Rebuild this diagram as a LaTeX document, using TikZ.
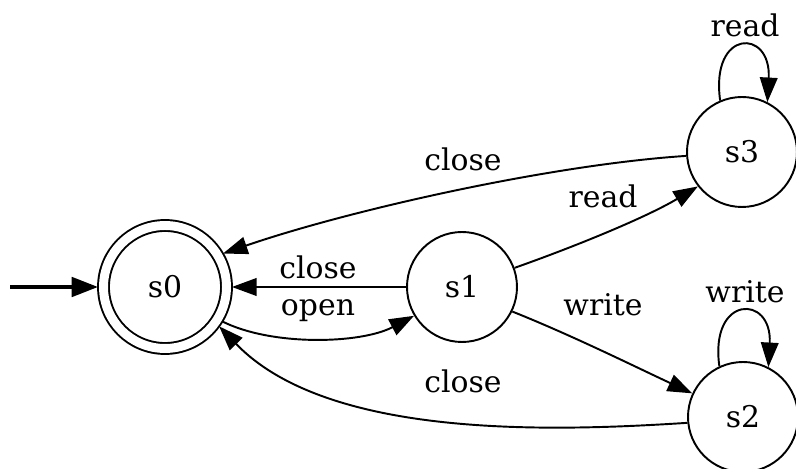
\documentclass[tikz,border=0pt]{standalone}
\usepackage{fontspec}
\setmainfont{DejaVu Serif}
\usetikzlibrary{arrows.meta}

\begin{document}
\begin{tikzpicture}[x=0.02cm, y=-0.02cm,
        statenode/.style={circle, draw, line width=1.1pt, minimum size=2.2cm,
            inner sep=0pt, font=\fontsize{17}{20}\selectfont},
        finalnode/.style={statenode, double, double distance=5.1pt,
            minimum size=2.46cm, outer sep=3.1pt},
        trans/.style={line width=1.1pt, -{Triangle[length=14pt, width=10pt]}},
        lbl/.style={inner sep=0pt, font=\fontsize{17}{20}\selectfont}]
                \useasboundingbox (0,0) rectangle (796,469);

                % states
                \node[finalnode] (s0) at (165,287) {s0};
                \node[statenode] (s1) at (462,287) {s1};
                \node[statenode] (s3) at (742,152) {s3};
                \node[statenode] (s2) at (743,417) {s2};

                % entry arrow
                \coordinate (entry) at (10,287);
                \draw[line width=2.2pt, -{Triangle[length=15pt, width=11pt]}] (entry) -- (s0);

                % transitions
                \draw[trans] (s1) -- (s0);
                \draw[trans] (s0.-31) .. controls +(50,25) and +(-53,28) .. (s1.211);
                \draw[trans] (s1.20) .. controls +(65,-23) and +(-50,30) .. (s3.218);
                \draw[trans] (s1.-26) .. controls +(60,24) and +(-60,-28) .. (s2.155);
                \draw[trans] (s3.184) .. controls +(-137,9) and +(125,-43) .. (s0.30);
                \draw[trans] (s2.186) .. controls +(-140,9) and +(108,112) .. (s0.-36);
                \draw[trans] (s3.113) .. controls +(-10,-72) and +(4,-74) .. (s3.63);
                \draw[trans] (s2.115) .. controls +(-10,-72) and +(4,-73) .. (s2.63);

                % labels
                \node[lbl] (lclose10) at (318,267) {close};
                \node[lbl] (lopen01) at (318,311) {open};
                \node[lbl] (lread13) at (603,196) {read};
                \node[lbl] (lwrite12) at (603,305) {write};
                \node[lbl] (lclose30) at (463,159) {close};
                \node[lbl] (lclose20) at (463,381) {close};
                \node[lbl] (lread33) at (745,25) {read};
                \node[lbl] (lwrite22) at (745,292) {write};
            \end{tikzpicture}
\end{document}
